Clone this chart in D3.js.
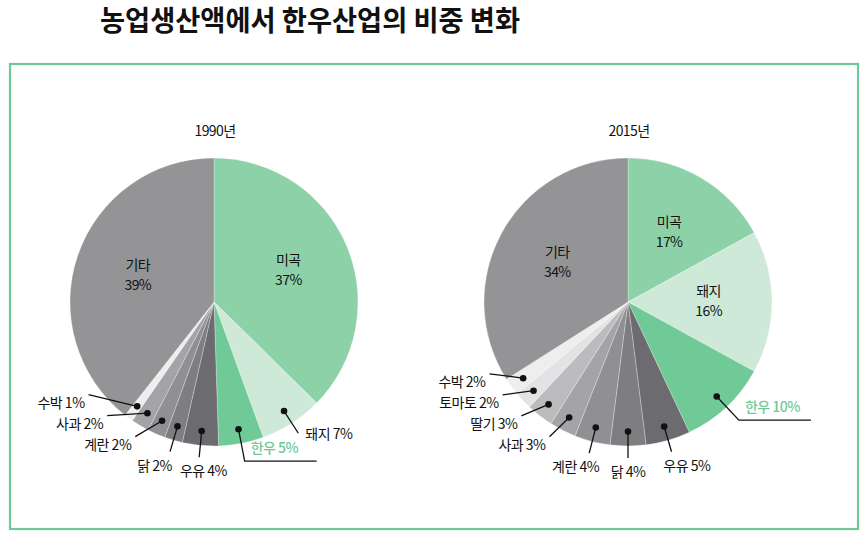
<!DOCTYPE html>
<html>
<head>
<meta charset="utf-8">
<script src="https://cdn.jsdelivr.net/npm/d3@7"></script>
<style>
  html, body { margin: 0; padding: 0; background: #ffffff; }
  svg { display: block; }
  text { font-family: "Noto Sans CJK KR", "Noto Sans", sans-serif; }
</style>
</head>
<body>
<svg id="chart" width="867" height="538"></svg>
<script>
// ---- data ----
const chartTitle = "농업생산액에서 한우산업의 비중 변화";
const years = ["1990년", "2015년"];
const categories1990 = ["미곡", "돼지", "한우", "우유", "닭", "계란", "사과", "수박", "기타"];
const values1990 = [37, 7, 5, 4, 2, 2, 2, 1, 39];
const categories2015 = ["미곡", "돼지", "한우", "우유", "닭", "계란", "사과", "딸기", "토마토", "수박", "기타"];
const values2015 = [17, 16, 10, 5, 4, 4, 3, 3, 2, 2, 34];
const highlightCategory = "한우";

// ---- styles ----
const colorMap = {
  "미곡": "#8dd1a9", "돼지": "#cee9d8", "한우": "#6fca98", "우유": "#6c6c70",
  "닭": "#7e7e81", "계란": "#909094", "사과": "#a4a4a8", "딸기": "#bcbcbe",
  "토마토": "#e3e3e5", "수박": "#eeeeef", "기타": "#949497"
};
const green = "#6fca98";
const R = 144;
const deg = Math.PI / 180;

const svg = d3.select("#chart");

svg.append("text")
  .attr("x", 100).attr("y", 31)
  .attr("font-size", 28).attr("font-weight", "bold")
  .attr("fill", "#111")
  .attr("textLength", 420).attr("lengthAdjust", "spacingAndGlyphs")
  .text(chartTitle);

svg.append("rect")
  .attr("x", 10).attr("y", 64).attr("width", 848).attr("height", 465)
  .attr("fill", "none").attr("stroke", "#6dc995").attr("stroke-width", 2.2);

const pies = [
  { year: years[0], cats: categories1990, vals: values1990, cx: 214, cy: 302 },
  { year: years[1], cats: categories2015, vals: values2015, cx: 628, cy: 302 }
];

const pieGen = d3.pie().sort(null).value(d => d.value);
const arcGen = d3.arc().innerRadius(0).outerRadius(R);

pies.forEach(p => {
  const data = p.cats.map((c, i) => ({ cat: c, value: p.vals[i] }));
  const arcs = pieGen(data);
  const g = svg.append("g").attr("transform", `translate(${p.cx},${p.cy})`);

  g.append("text")
    .attr("x", 1).attr("y", -R - 22)
    .attr("text-anchor", "middle")
    .attr("font-size", 14).attr("letter-spacing", -0.6).attr("fill", "#111")
    .text(p.year);

  g.selectAll("path.slice").data(arcs).enter().append("path")
    .attr("class", "slice")
    .attr("d", arcGen)
    .attr("fill", d => colorMap[d.data.cat])
    .attr("stroke", "#ffffff").attr("stroke-opacity", 0.45).attr("stroke-width", 0.6);

  // inside labels for big slices
  const inner = arcs.filter(d => d.data.value >= 15);
  const innerArc = d3.arc().innerRadius(R * 0.56).outerRadius(R * 0.56);
  inner.forEach(d => {
    const [x, y] = innerArc.centroid(d);
    g.append("text").attr("text-anchor", "middle")
      .attr("x", x).attr("y", y - 6)
      .attr("font-size", 14).attr("letter-spacing", -0.6).attr("fill", "#111")
      .text(d.data.cat);
    g.append("text").attr("text-anchor", "middle")
      .attr("x", x).attr("y", y + 14)
      .attr("font-size", 14).attr("letter-spacing", -0.6).attr("fill", "#111")
      .text(d.data.value + "%");
  });

  // outside labels
  const outer = arcs.filter(d => d.data.value < 15);
  const dotArc = d3.arc().innerRadius(R * 0.9).outerRadius(R * 0.9);
  const endR = R + 12;
  const mid = d => (d.startAngle + d.endAngle) / 2;

  const items = outer.map(d => {
    const a = mid(d);
    const dot = dotArc.centroid(d);
    let kind;
    if (d.data.cat === highlightCategory) kind = "hl";
    else if (a < 160 * deg) kind = "right";
    else if (a <= 200 * deg) kind = "bottom";
    else kind = "left";
    const end = [Math.sin(a) * endR, -Math.cos(a) * endR];
    return { d, a, dot, kind, end, label: d.data.cat + " " + d.data.value + "%" };
  });

  // de-overlap left labels (stagger upward)
  const gap = 21;
  let prevCenter = Infinity;
  items.filter(it => it.kind === "bottom" || it.kind === "left")
    .sort((u, v) => u.a - v.a)
    .forEach(it => {
      if (it.kind === "bottom") {
        prevCenter = Math.min(prevCenter, it.end[1] + 14);
        return;
      }
      let center = it.end[1] + 8;
      if (center > prevCenter - gap) {
        center = prevCenter - gap;
        const ey = center - 8;
        const ex = -Math.sqrt(Math.max(endR * endR - ey * ey, 0));
        it.end = [ex, ey];
      }
      prevCenter = center;
    });

  items.forEach(it => {
    if (it.kind === "hl") {
      const eR = R + 18;
      const elbow = [Math.sin(it.a) * eR, -Math.cos(it.a) * eR];
      g.append("path")
        .attr("d", d3.line()([it.dot, elbow, [elbow[0] + 72, elbow[1]]]))
        .attr("fill", "none").attr("stroke", "#111").attr("stroke-width", 1.3);
      g.append("text")
        .attr("x", elbow[0] + 6).attr("y", elbow[1] - 8)
        .attr("font-size", 14).attr("letter-spacing", -0.5)
        .attr("font-weight", 500)
        .attr("fill", green)
        .text(it.label);
    } else {
      g.append("line")
        .attr("x1", it.dot[0]).attr("y1", it.dot[1])
        .attr("x2", it.end[0]).attr("y2", it.end[1])
        .attr("stroke", "#111").attr("stroke-width", 1.3);
      it.text = g.append("text")
        .attr("font-size", 14).attr("letter-spacing", -0.5).attr("fill", "#111")
        .text(it.label);
      if (it.kind === "right") {
        it.text.attr("x", it.end[0] + 7).attr("y", it.end[1] + 6).attr("text-anchor", "start");
      } else if (it.kind === "bottom") {
        it.text.attr("y", it.end[1] + 19).attr("text-anchor", "middle");
      } else {
        it.text.attr("x", it.end[0] - 4).attr("y", it.end[1] + 13).attr("text-anchor", "end");
      }
    }
    g.append("circle")
      .attr("cx", it.dot[0]).attr("cy", it.dot[1]).attr("r", 3.3)
      .attr("fill", "#111");
  });

  // horizontal de-overlap of bottom labels, left to right
  let prevRight = -Infinity;
  items.filter(it => it.kind === "bottom")
    .sort((u, v) => v.a - u.a)
    .forEach(it => {
      const w = it.text.node().getComputedTextLength();
      let cx = it.end[0] + Math.sin(it.a) * 55;
      if (cx - w / 2 < prevRight + 8) cx = prevRight + 8 + w / 2;
      it.text.attr("x", cx);
      prevRight = cx + w / 2;
    });
});
</script>
</body>
</html>
